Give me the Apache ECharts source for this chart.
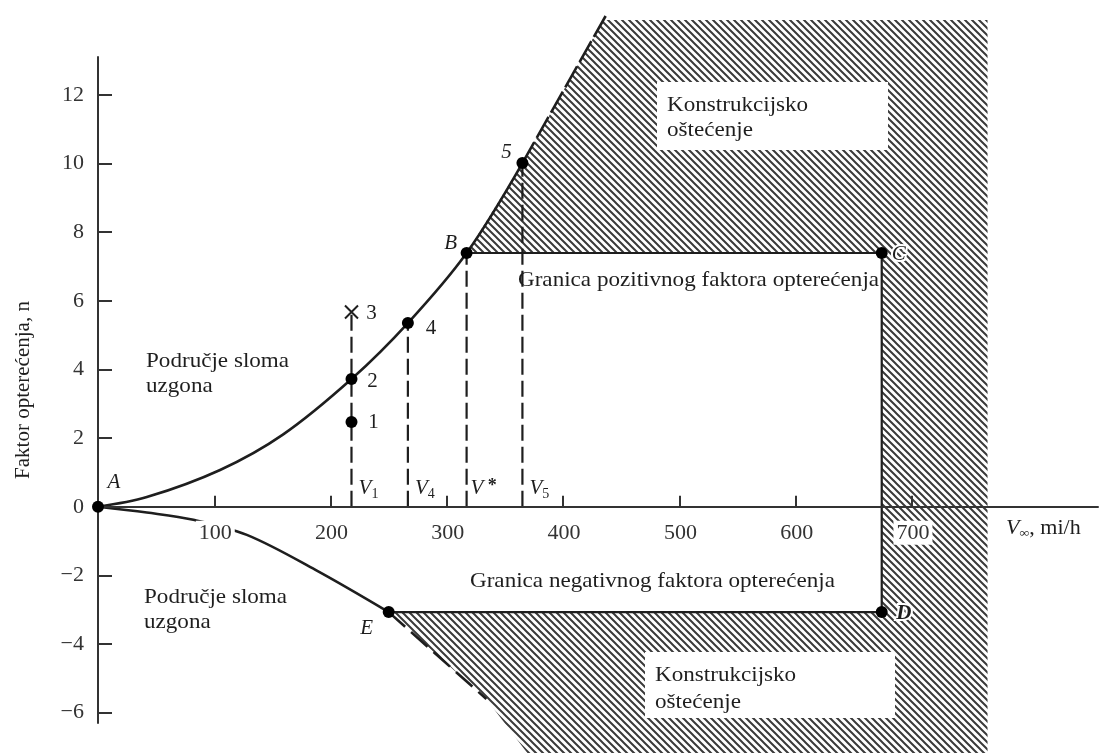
<!DOCTYPE html>
<html>
<head>
<meta charset="utf-8">
<script src="https://cdn.jsdelivr.net/npm/echarts@6/dist/echarts.min.js"></script>
<style>
html,body{margin:0;padding:0;background:#fff;}
#chart{width:1099px;height:753px;}
</style>
</head>
<body>
<div id="chart"></div>
<script>
// ---------- data ----------
const xTicks = [100, 200, 300, 400, 500, 600, 700];
const yTicks = [-6, -4, -2, 0, 2, 4, 6, 8, 10, 12];

// positive stall curve A -> B -> 5 (solid)
const posCurveV = [0, 42, 105, 159, 218, 266.5, 317, 365];
const posCurveN = [0, 0.28, 1.07, 2.1, 3.72, 5.35, 7.39, 10.01];
// dashed continuation beyond point 5
const posDashV = [365, 438];
const posDashN = [10.01, 14.38];
// negative stall curve A -> E (solid)
const negCurveV = [0, 42, 82, 128, 187, 250];
const negCurveN = [0, -0.17, -0.38, -0.82, -1.84, -3.07];
// dashed continuation beyond E
const negDashV = [250, 334];
const negDashN = [-3.07, -5.6];
// envelope B -> C -> D -> E
const envV = [317, 674, 674, 250];
const envN = [7.39, 7.39, -3.07, -3.07];
// marked points
const ptNames = ['A', '1', '2', '4', 'B', '5', 'C', 'D', 'E'];
const ptV = [0, 218, 218, 266.5, 317, 365, 674, 674, 250];
const ptN = [0, 2.47, 3.72, 5.35, 7.39, 10.01, 7.39, -3.07, -3.07];
// point 3 (cross)
const crossName = '3';
const crossV = 218;
const crossN = 5.67;
// dashed verticals V1, V4, V*, V5
const vLineV = [218, 266.5, 317, 365];
const vLineTop = [5.67, 5.35, 7.39, 10.01];
const vLineSub = ['1', '4', '*', '5'];
// structural damage region (hatched)
const hatchV = [317, 365, 434.6, 765, 765, 372, 334, 250, 674, 674];
const hatchN = [7.39, 10.01, 14.18, 14.18, -7.3, -7.3, -5.6, -3.07, -3.07, 7.39];

// ---------- helpers ----------
const zip = (a, b) => a.map((v, i) => [v, b[i]]);
const SERIF = '"Liberation Serif", "DejaVu Serif", serif';
const INK = '#1e1e1e';

function makeHatch() {
  const s = 7;
  const c = document.createElement('canvas');
  c.width = s; c.height = s;
  const g = c.getContext('2d');
  g.fillStyle = '#ffffff';
  g.fillRect(0, 0, s, s);
  g.strokeStyle = '#3a3a3a';
  g.lineWidth = 2;
  g.beginPath();
  g.moveTo(-1, -1); g.lineTo(s + 1, s + 1);
  g.moveTo(-1, s - 1); g.lineTo(1, s + 1);
  g.moveTo(s - 1, -1); g.lineTo(s + 1, 1);
  g.stroke();
  return c;
}
const hatchPattern = { image: makeHatch(), repeat: 'repeat' };

const chart = echarts.init(document.getElementById('chart'), null, { renderer: 'canvas' });

const labelOffsets = {
  'A': [16, -24], '1': [22, 1], '2': [21, 2], '4': [23, 5], 'B': [-16, -10],
  '5': [-16, -11], 'C': [17, 1], 'D': [22, 1], 'E': [-22, 16]
};
const italicNames = ['A', 'B', 'C', 'D', 'E', '5'];

const series = [];

series.push({
  type: 'custom',
  name: 'hatch',
  clip: false,
  z: 1,
  silent: true,
  data: [0],
  renderItem: function (params, api) {
    const pts = hatchV.map((v, i) => api.coord([v, hatchN[i]]));
    return {
      type: 'polygon',
      shape: { points: pts },
      style: { fill: hatchPattern, stroke: null }
    };
  }
});

series.push({
  type: 'line', name: 'posCurve', data: zip(posCurveV, posCurveN),
  smooth: 0.35, showSymbol: false, clip: false, z: 3,
  lineStyle: { color: INK, width: 2.6 }
});
series.push({
  type: 'line', name: 'posDash', data: zip(posDashV, posDashN),
  showSymbol: false, clip: false, z: 3,
  lineStyle: { color: INK, width: 2.6, type: [24, 5] }
});
series.push({
  type: 'line', name: 'negCurve', data: zip(negCurveV, negCurveN),
  smooth: 0.35, showSymbol: false, clip: false, z: 3,
  lineStyle: { color: INK, width: 2.6 }
});
series.push({
  type: 'line', name: 'negDash', data: zip(negDashV, negDashN),
  showSymbol: false, clip: false, z: 3,
  lineStyle: { color: INK, width: 2.6, type: [22, 8] }
});
series.push({
  type: 'line', name: 'envelope', data: zip(envV, envN),
  showSymbol: false, clip: false, z: 3,
  lineStyle: { color: INK, width: 2.2 }
});

vLineV.forEach((v, i) => {
  series.push({
    type: 'line', name: 'vline' + i, data: [[v, 0], [v, vLineTop[i]]],
    showSymbol: false, z: 3,
    lineStyle: { color: INK, width: 2.2, type: [16, 6] }
  });
});

// x tick labels sitting on the n = 0 axis line
series.push({
  type: 'scatter', name: 'xlabels', z: 8, symbolSize: 0, silent: true, clip: false,
  itemStyle: { opacity: 1 },
  data: xTicks.map(v => [v, 0]),
  label: {
    show: true, position: 'inside', offset: [1, 26],
    formatter: p => String(p.value[0]),
    fontFamily: SERIF, fontSize: 22, color: '#333',
    backgroundColor: '#fff', padding: [1, 3, 1, 3]
  }
});

series.push({
  type: 'scatter', name: 'vlabels', z: 6,
  symbolSize: 0, silent: true,
  itemStyle: { opacity: 1 },
  data: vLineV.map((v, i) => ({
    value: [v, 0],
    label: {
      formatter: vLineSub[i] === '*' ? '{v|V}{st| *}' : '{v|V}{s|' + vLineSub[i] + '}'
    }
  })),
  label: {
    show: true, position: 'inside', offset: [17, -18],
    rich: {
      v: { fontFamily: SERIF, fontStyle: 'italic', fontSize: 21, color: INK },
      s: { fontFamily: SERIF, fontSize: 14, color: INK, padding: [12, 0, 0, 0] },
      st: { fontFamily: SERIF, fontSize: 18, fontWeight: 'bold', color: INK, padding: [0, 0, 4, 0] }
    }
  }
});

series.push({
  type: 'scatter', name: 'points', z: 7,
  symbolSize: 12,
  itemStyle: { color: '#000', opacity: 1 },
  data: ptNames.map((nm, i) => ({
    value: [ptV[i], ptN[i]],
    label: {
      show: true, position: 'inside', formatter: nm,
      offset: labelOffsets[nm],
      fontFamily: SERIF, fontSize: 21, color: INK,
      fontStyle: italicNames.indexOf(nm) >= 0 ? 'italic' : 'normal',
      fontWeight: (nm === 'D') ? 'bold' : 'normal',
      textBorderColor: (nm === 'C' || nm === 'D') ? '#fff' : 'transparent',
      textBorderWidth: (nm === 'C' || nm === 'D') ? 4 : 0
    }
  })),
  clip: false
});

series.push({
  type: 'scatter', name: 'cross', z: 7,
  symbol: 'path://M0,0 L10,10 M10,0 L0,10',
  symbolSize: 13,
  itemStyle: { color: 'none', borderColor: INK, borderWidth: 2, opacity: 1 },
  data: [{ value: [crossV, crossN] }],
  label: {
    show: true, position: 'inside', formatter: crossName, offset: [20, 1],
    fontFamily: SERIF, fontSize: 21, color: INK
  }
});

function textBlock(x, y, lines, lh, withBox) {
  const els = [];
  if (withBox) {
    els.push({
      type: 'rect', shape: withBox, style: { fill: '#fff' }, z: 10
    });
  }
  els.push({
    type: 'text', x: x, y: y, z: 11, scaleX: 1.1,
    style: {
      text: lines, fontFamily: SERIF, fontSize: 21, fill: INK,
      lineHeight: lh, textVerticalAlign: 'top'
    }
  });
  return els;
}

const graphics = []
  .concat(textBlock(667, 93, 'Konstrukcijsko\noštećenje', 25, { x: 657, y: 82, width: 231, height: 68 }))
  .concat(textBlock(655, 662, 'Konstrukcijsko\noštećenje', 27, { x: 645, y: 652, width: 250, height: 66 }))
  .concat(textBlock(146, 349, 'Područje sloma\nuzgona', 25, null))
  .concat(textBlock(144, 585, 'Područje sloma\nuzgona', 25, null))
  .concat(textBlock(518, 268, 'Granica pozitivnog faktora opterećenja', 24, null))
  .concat(textBlock(470, 569, 'Granica negativnog faktora opterećenja', 24, null));

graphics.push({
  type: 'text', x: 1006, y: 517, z: 11, scaleX: 1.05,
  style: {
    text: '{v|V}{i|∞}{n|, mi/h}',
    rich: {
      v: { fontFamily: SERIF, fontStyle: 'italic', fontSize: 21, fill: INK, color: INK },
      i: { fontFamily: SERIF, fontWeight: 'bold', fontSize: 13, fill: INK, color: INK, padding: [10, 0, 0, 0] },
      n: { fontFamily: SERIF, fontSize: 21, fill: INK, color: INK }
    }
  }
});

const option = {
  backgroundColor: '#ffffff',
  animation: false,
  grid: { left: 98, right: 1, top: 57, bottom: 30, containLabel: false, outerBoundsMode: 'none' },
  xAxis: {
    type: 'value', min: 0, max: 860, z: 5,
    axisLine: { show: true, onZero: true, lineStyle: { color: '#333', width: 2 } },
    axisTick: { show: true, inside: true, length: 11, customValues: xTicks, lineStyle: { color: '#333', width: 2 } },
    axisLabel: { show: false },
    splitLine: { show: false }
  },
  yAxis: {
    type: 'value', min: -6.3, max: 13.1, z: 5,
    name: 'Faktor opterećenja, n', nameLocation: 'middle', nameRotate: 90, nameGap: 64,
    nameTextStyle: { fontFamily: SERIF, fontSize: 21, color: INK },
    axisLine: { show: true, onZero: false, lineStyle: { color: '#333', width: 2 } },
    axisTick: { show: true, inside: true, length: 14, customValues: yTicks, lineStyle: { color: '#333', width: 2 } },
    axisLabel: {
      show: true, customValues: yTicks, margin: 14,
      fontFamily: SERIF, fontSize: 22, color: '#333',
      formatter: v => String(v).replace('-', '−')
    },
    splitLine: { show: false }
  },
  graphic: graphics,
  series: series
};

chart.setOption(option);
</script>
</body>
</html>
